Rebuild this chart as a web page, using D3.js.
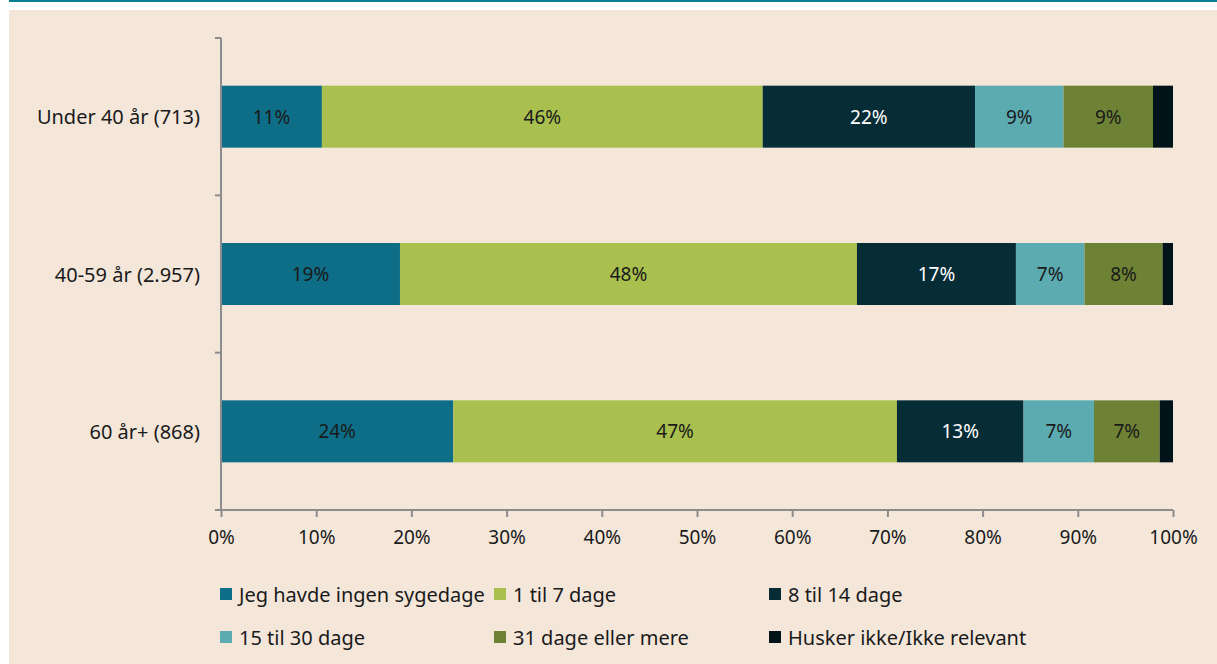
<!DOCTYPE html>
<html><head><meta charset="utf-8">
<script src="https://cdn.jsdelivr.net/npm/d3@7"></script>
<style>
html,body{margin:0;padding:0;background:#fff;}
svg{display:block;}
text{font-family:"Noto Sans","Open Sans",sans-serif;fill:#1a1a1a;}
</style></head><body>
<svg id="c" width="1217" height="664"></svg>
<script>
const categories = ["Under 40 år (713)", "40-59 år (2.957)", "60 år+ (868)"];
const seriesNames = ["Jeg havde ingen sygedage", "1 til 7 dage", "8 til 14 dage", "15 til 30 dage", "31 dage eller mere", "Husker ikke/Ikke relevant"];
const s1 = [10.6, 18.8, 24.4];
const s2 = [46.3, 48.0, 46.6];
const s3 = [22.3, 16.7, 13.3];
const s4 = [9.3, 7.2, 7.4];
const s5 = [9.4, 8.2, 6.9];
const s6 = [2.1, 1.1, 1.4];
const colors = ["#0E6E87", "#A9BF4E", "#062C36", "#5BABB0", "#6E8235", "#03131A"];
const labelColors = ["#1a1a1a", "#1a1a1a", "#ffffff", "#1a1a1a", "#1a1a1a", null];
const xTicks = [0, 10, 20, 30, 40, 50, 60, 70, 80, 90, 100];

const series = [s1, s2, s3, s4, s5, s6];
const svg = d3.select("#c");
const FONT = '"Noto Sans","Open Sans",sans-serif';
// frame
svg.append("rect").attr("x", 9).attr("y", 10).attr("width", 1208).attr("height", 654).attr("fill", "#F4E7DA");
svg.append("rect").attr("x", 9).attr("y", 0).attr("width", 1208).attr("height", 2).attr("fill", "#0A7E93");

const x = d3.scaleLinear().domain([0, 100]).range([221, 1173]);
const y = d3.scaleBand().domain(categories).range([38, 510]).paddingInner(0.606).paddingOuter(0.303);

const rows = categories.map((c, i) => {
  let acc = 0;
  return series.map((s, k) => { const v = s[i]; const seg = {cat: c, k, x0: acc, x1: acc + v, v}; acc += v; return seg; });
});

const g = svg.append("g");
rows.forEach(r => {
  g.selectAll(null).data(r).enter().append("rect")
    .attr("x", d => x(d.x0)).attr("width", d => x(d.x1) - x(d.x0))
    .attr("y", d => y(d.cat)).attr("height", y.bandwidth())
    .attr("fill", d => colors[d.k]);
  g.selectAll(null).data(r.filter(d => labelColors[d.k])).enter().append("text")
    .attr("x", d => (x(d.x0) + x(d.x1)) / 2).attr("y", d => y(d.cat) + y.bandwidth() / 2)
    .attr("text-anchor", "middle").attr("dominant-baseline", "central")
    .style("font-size", "19px").style("fill", d => labelColors[d.k])
    .text(d => Math.round(d.v) + "%");
});

// y axis
const axisColor = "#8C8C8C";
svg.append("line").attr("x1", 221).attr("x2", 221).attr("y1", 38).attr("y2", 510).attr("stroke", axisColor).attr("stroke-width", 2);
const step = (510 - 38) / categories.length;
d3.range(categories.length + 1).forEach(i => {
  svg.append("line").attr("x1", 215).attr("x2", 221).attr("y1", 38 + i * step).attr("y2", 38 + i * step).attr("stroke", axisColor).attr("stroke-width", 2);
});
svg.selectAll(".cl").data(categories).enter().append("text")
  .attr("x", 200).attr("y", d => y(d) + y.bandwidth() / 2)
  .attr("text-anchor", "end").attr("dominant-baseline", "central")
  .style("font-size", "20px").text(d => d);

// x axis
const xa = svg.append("g").attr("transform", "translate(0,510)")
  .call(d3.axisBottom(x).tickValues(xTicks).tickSize(7).tickSizeOuter(0).tickFormat(d => d + "%").tickPadding(14));
xa.select(".domain").attr("stroke", axisColor).attr("stroke-width", 2).attr("d", "M215,0H1173");
xa.selectAll(".tick line").attr("stroke", axisColor).attr("stroke-width", 2);
xa.selectAll(".tick text").style("font-size", "19px").style("font-family", FONT).attr("fill", "#1a1a1a");

// legend
const legX = [220, 494, 769];
const legY = [594, 637];
const lg = svg.append("g");
seriesNames.forEach((n, k) => {
  const cx = legX[k % 3], cy = legY[Math.floor(k / 3)];
  lg.append("rect").attr("x", cx).attr("y", cy - 6).attr("width", 12).attr("height", 12).attr("fill", colors[k]);
  lg.append("text").attr("x", cx + 19).attr("y", cy).attr("dominant-baseline", "central").style("font-size", "20px").text(n);
});
</script>
</body></html>
